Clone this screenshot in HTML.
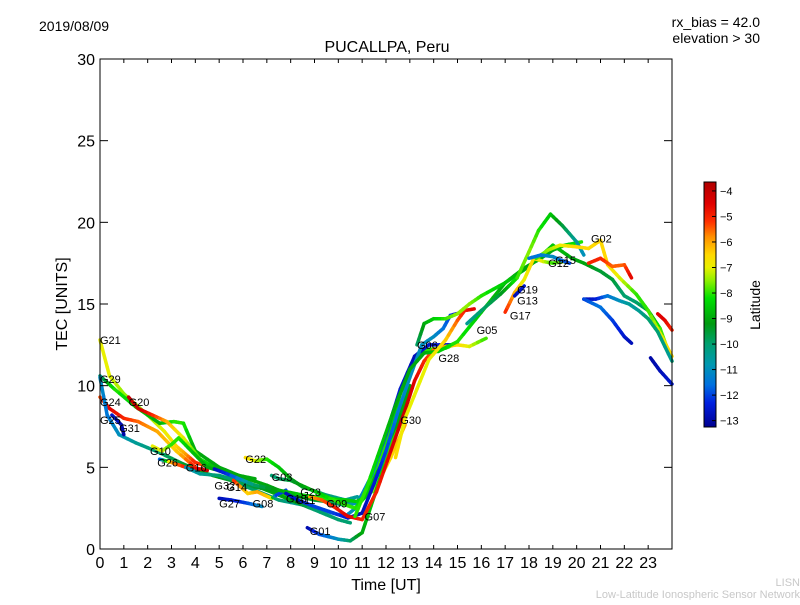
<!DOCTYPE html>
<html><head><meta charset="utf-8"><style>
body{margin:0;background:#fff;}
svg text{font-family:"Liberation Sans","DejaVu Sans",sans-serif;}
</style></head><body>
<svg id="chart" width="800" height="600" viewBox="0 0 800 600" xmlns="http://www.w3.org/2000/svg">
<rect width="800" height="600" fill="#fff"/>
<text x="39" y="31" font-size="14">2019/08/09</text>
<text x="760" y="27" font-size="14" text-anchor="end">rx_bias = 42.0</text>
<text x="760" y="43" font-size="14" text-anchor="end">elevation &gt; 30</text>
<text x="387" y="52" font-size="16" text-anchor="middle">PUCALLPA, Peru</text>
<g id="marks"></g>
<g id="labels"></g>
<rect x="100" y="59" width="572" height="490" fill="none" stroke="#000" stroke-width="1"/>
<g id="axes"></g>
<text x="386" y="590" font-size="16" text-anchor="middle">Time [UT]</text>
<text x="67" y="304" font-size="16" text-anchor="middle" transform="rotate(-90 67 304)">TEC [UNITS]</text>
<defs><linearGradient id="cmap" x1="0" y1="0" x2="0" y2="1"></linearGradient></defs>
<rect x="704" y="182" width="12" height="245" fill="url(#cmap)" stroke="#000" stroke-width="1"/>
<g id="cbticks"></g>
<text x="760" y="305" font-size="14" text-anchor="middle" transform="rotate(-90 760 305)">Latitude</text>
<text x="800" y="586" font-size="11" fill="#c8c8c8" text-anchor="end">LISN</text>
<text x="800" y="598" font-size="11" fill="#c8c8c8" text-anchor="end">Low-Latitude Ionospheric Sensor Network</text>
</svg>
<script>
const xTicks=[0,1,2,3,4,5,6,7,8,9,10,11,12,13,14,15,16,17,18,19,20,21,22,23];
const yTicks=[0,5,10,15,20,25,30];
const cbTicks=[-4,-5,-6,-7,-8,-9,-10,-11,-12,-13];
const latMin=-13.25, latMax=-3.65;
const satNames=["G21","G29","G24","G25","G20","G31","G10","G26","G16","G22","G32","G14","G03","G27","G08","G18","G11","G23","G09","G01","G07","G30","G06","G28","G05","G17","G13","G19","G12","G15","G02"];
const labelT=[0,0,0,0,1.2,0.8,2.1,2.4,3.6,6.1,4.8,5.3,7.2,5.0,6.4,7.8,8.2,8.4,9.5,8.8,11.1,12.6,13.3,14.2,15.8,17.2,17.5,17.5,18.8,19.1,20.6];
const labelV=[12.8,10.4,9.0,7.9,9.0,7.4,6.0,5.3,5.0,5.5,3.9,3.8,4.4,2.8,2.8,3.1,3.0,3.5,2.8,1.1,2.0,7.9,12.5,11.7,13.4,14.3,15.2,15.9,17.5,17.7,19.0];
const sTime=[
[0,0.4,1,2,2.7,3.2,3.6,4,5,6,7,8],
[0,0.6,1.5,2.5,3.1,3.5,4,5,6,7,8,9,10,10.8,11.3,12,12.6,13.2,13.6,14.5,15],
[0,0.4,1,1.6,2.4,3.2,4],
[0,0.3,0.8,1.5,2.5,3.5,4.5,5.5,6.5,7.5,8.5,9.5,10.3,10.8],
[1.2,1.6,2.2,2.8,3.5,4.2,5,6,7,8,9,10,10.5],
[0.5,0.9,1.0],
[2.2,2.6,3.0,3.3,3.7,4.5,5.5,6.5],
[2.5,3.0,3.6,4.2,4.5],
[3.6,4.2,5.0,5.5,6.5,7.5,8.5,9.5,10.2,10.8,11.4,12,12.6,13.2,13.8,14.4,14.8],
[6.1,6.5,7,7.5,8,8.5,9.5,10.3,10.8],
[5.6,6.2,6.6,7.2,7.4,7.8],
[4.8,5.5,6.5,7.5,8.5,9.5,10.3,10.8,11.5,12.2,12.8],
[7.2,7.5,8,8.6,9.2,9.8,10.3,10.7,11.2,11.8,12.5,13.0],
[5.0,5.5,6.2,6.8],
[8.7,9.2,10,10.5,11,11.5,12.1,12.5],
[7.8,8.3,9,9.8,10.4,11,11.5,12,12.5,13,13.5,14,14.4,14.7,15.2],
[8.8,9.3,9.8,10.4,11,11.6,12.2,12.8,13.2,13.6,14,14.5,15,15.5,16.2],
[10.7,11.2,11.8,12.4,13,13.6,14.2,15,16,17,17.8,18.5,19,19.5,20.2],
[12.4,12.8,13.3,13.8,14.5,15,15.3,15.7],
[13.3,13.6,14,14.5,15,15.5,16,17,18,19,19.8,20.3,21,21.5,22,22.5,23,23.5,24],
[15.4,16,16.8,17.5,18,18.4,18.9,19.4,20,20.3],
[17.0,17.4,17.8,18.2,18.6,19.0,19.5],
[17.4,17.8],
[18.3,18.8,19.3,20,20.5,21,21.3,21.8,22.5,23,23.5,24],
[20.5,21,21.5,22,22.3],
[20.3,20.8,21.3,21.8,22.2,22.6,23,23.4,24],
[20.3,21,21.5,22,22.3],
[23.1,23.5,24],
[23.4,23.7,24],
[18.0,18.5,19.0,19.3,19.7]
];
const sVal=[
[12.8,10.6,9.5,8.2,7.2,6.3,5.8,5.3,4.8,4.2,3.6,3.2],
[10.6,9.8,8.7,7.7,7.8,7.7,6.0,5.0,4.4,3.9,3.3,3.0,2.8,2.9,4.0,6.5,9.5,11.5,12.2,12.3,12.6],
[9.3,8.6,8.0,7.8,7.2,6.0,5.0],
[10.5,8.2,7.0,6.5,5.9,5.2,4.6,4.2,3.6,3.0,2.7,2.3,2.0,2.6],
[9.3,8.6,8.2,7.8,6.8,5.5,4.8,4.2,3.6,3.0,2.4,1.8,1.6],
[8.2,7.6,7.0],
[6.3,6.0,6.4,6.8,6.2,5.0,4.6,4.3],
[5.5,5.3,5.0,4.9,4.8],
[5.0,4.6,4.5,4.3,3.8,3.5,3.2,2.9,2.7,2.8,4.5,7.0,9.8,11.8,12.5,12.5,12.5],
[5.6,5.4,5.5,5.0,4.3,3.8,3.3,3.0,3.2],
[4.2,3.4,3.5,3.1,3.3,3.6],
[4.9,4.5,3.9,3.6,3.3,3.1,3.0,2.9,3.6,5.6,7.6],
[4.5,4.3,4.2,3.8,3.4,3.0,2.7,2.5,3.3,5.2,7.8,10],
[3.1,3.0,2.8,2.6],
[1.3,0.9,0.6,0.5,1.0,3.2,6.0,7.3],
[3.4,3.0,2.6,2.2,1.9,2.2,4.0,6.0,8.4,10.5,12.5,13.0,13.5,14.3,14.5],
[3.2,3.0,2.6,2.0,1.8,3.5,6.0,8.5,10.3,11.5,12.2,12.4,12.5,12.4,12.9],
[2.0,3.8,6.3,8.8,11.0,12.0,12.1,12.7,14.5,16.3,17.2,17.8,18.3,18.6,18.8],
[5.6,8.0,9.8,11.6,12.8,14.0,14.6,14.7],
[12.5,13.8,14.1,14.1,14.4,15.0,15.5,16.3,17.3,18.6,17.8,17.5,17.0,16.5,15.5,15.1,14.6,13.5,11.5],
[13.8,14.6,15.6,16.6,18.2,19.5,20.5,19.8,18.8,18.0],
[14.5,15.7,16.5,17.8,17.6,17.5,17.6],
[15.5,16.1],
[17.8,18.3,18.6,18.5,18.4,18.9,17.4,16.6,15.6,14.6,13.2,11.8],
[17.5,17.8,17.3,17.4,16.6],
[15.3,15.3,15.5,15.2,15.0,14.6,14.1,13.3,11.5],
[15.3,14.8,14.0,13.0,12.6],
[11.7,10.9,10.1],
[14.4,14.0,13.4],
[17.8,18.0,17.9,17.7,17.5]
];
const sLat=[
[-7,-7,-7.5,-7.5,-7,-6.5,-6,-5,-6,-7,-8,-8],
[-10.5,-8,-8.5,-9,-8,-8,-9,-9,-9,-9,-9.5,-9.5,-10,-9,-8,-8,-8.5,-9,-8,-8,-8],
[-5.5,-4.5,-5,-5.5,-6,-6.5,-5],
[-11,-11.5,-11,-10.5,-10,-9.5,-9,-9.5,-10,-10,-10.5,-11,-11,-11],
[-4,-4,-5,-6,-7,-8,-9,-9,-9,-9,-10,-10,-10],
[-12.5,-12.8,-13],
[-7,-7,-8,-8,-8.5,-9,-9,-9],
[-12.5,-6,-5,-4.5,-4],
[-11,-10.5,-10,-10,-9.5,-9,-9,-9.5,-10,-11,-11.5,-12,-12.5,-12.8,-12.5,-12.5,-12.5],
[-6.5,-7,-8,-8.5,-9,-9.5,-10,-10.5,-10.5],
[-5,-6.5,-6,-6.5,-12,-12],
[-12.8,-12,-10,-9,-8.5,-8,-8.5,-8.5,-7.5,-6.5,-6],
[-10,-10,-9.5,-9,-8.5,-8,-8,-8,-8.5,-9,-9,-9],
[-12.8,-12.5,-12,-11],
[-13,-12,-11,-10,-9,-8.5,-8,-8],
[-12.8,-12.5,-12,-12,-12.5,-12.8,-12.5,-12,-11.5,-11,-11,-11,-11.5,-12,-13],
[-6,-5.5,-5,-4.5,-5,-5,-4.5,-4,-4.5,-5,-5.5,-6,-6.5,-7,-8],
[-8,-8,-8.5,-9,-9,-9,-8.5,-8,-8.5,-9,-9,-9,-9,-8.5,-8],
[-6.5,-7,-7,-7,-6.5,-5.5,-5,-4.5],
[-10,-9,-8.5,-8,-7.5,-7.5,-8,-8.5,-9,-8.5,-9,-9,-9.5,-9.5,-10,-10,-9.5,-8,-7],
[-10.5,-10,-9.5,-8,-7.5,-8,-8.5,-9.5,-10.5,-11],
[-5,-6,-7,-6.5,-7,-8,-7.5],
[-12.8,-12.5],
[-8,-7.5,-7,-6.5,-6.5,-6.5,-6.5,-7,-8,-8,-7,-6.5],
[-5,-5,-5.5,-5.5,-4.5],
[-12.8,-12.5,-11.5,-11,-10.5,-10.5,-10,-10,-10.5],
[-12,-11.5,-12,-12.5,-12.8],
[-13,-12.8,-12.5],
[-4.5,-4.5,-5],
[-11.5,-11.5,-11,-11.5,-12]
];
const X=t=>100+t*(572/24);
const Y=v=>549-v*(490/30);
const C=l=>182+(latMax-l)/(latMax-latMin)*245;
// colormap stops (lat, rgb)
const cmL=[-3.65,-4.5,-5.2,-5.8,-6.5,-7.0,-7.5,-8.2,-9.2,-10.0,-10.8,-11.6,-12.3,-13.25];
const cmC=[[176,0,0],[224,0,0],[255,48,0],[255,144,0],[255,216,0],[232,240,0],[144,240,0],[0,224,0],[0,154,16],[0,160,112],[0,152,176],[0,112,224],[0,32,224],[0,0,144]];
function jet(l){
 if(l>=cmL[0])return `rgb(${cmC[0]})`;
 for(let i=0;i<cmL.length-1;i++){
  if(l<=cmL[i]&&l>=cmL[i+1]){const f=(cmL[i]-l)/(cmL[i]-cmL[i+1]);
   const c=cmC[i].map((v,k)=>Math.round(v+(cmC[i+1][k]-v)*f));return `rgb(${c})`;}
 }
 return `rgb(${cmC[cmC.length-1]})`;
}
const NS="http://www.w3.org/2000/svg";
function mk(tag,attrs,parent){const e=document.createElementNS(NS,tag);for(const k in attrs)e.setAttribute(k,attrs[k]);parent.appendChild(e);return e;}
const grad=document.getElementById('cmap');
cmL.forEach((l,i)=>{mk('stop',{offset:(latMax-l)/(latMax-latMin),'stop-color':`rgb(${cmC[i]})`},grad);});
const marks=document.getElementById('marks');
sTime.forEach((ts,si)=>{
 const g=mk('g',{},marks);
 
 
 for(let i=0;i<ts.length-1;i++){
  const steps=4;
  for(let k=0;k<steps;k++){
   const a=k/steps,b=(k+1)/steps;
   const t1=ts[i]+(ts[i+1]-ts[i])*a,t2=ts[i]+(ts[i+1]-ts[i])*b;
   const v1=sVal[si][i]+(sVal[si][i+1]-sVal[si][i])*a,v2=sVal[si][i]+(sVal[si][i+1]-sVal[si][i])*b;
   const l=sLat[si][i]+(sLat[si][i+1]-sLat[si][i])*(a+b)/2;
   const ln=mk('line',{x1:X(t1),y1:Y(v1),x2:X(t2),y2:Y(v2),stroke:jet(l),'stroke-width':3.5,'stroke-linecap':'round'},g);
   
   
  }
 }
});
const labels=document.getElementById('labels');
satNames.forEach((n,i)=>{
 const t=mk('text',{x:X(labelT[i]),y:Y(labelV[i])+4,'font-size':11},labels);
 t.textContent=n;
 
 
});
const axes=document.getElementById('axes');
xTicks.forEach(t=>{
 const a=mk('line',{x1:X(t),x2:X(t),y1:549,y2:545,stroke:'#000'},axes);
 
 
 const b=mk('line',{x1:X(t),x2:X(t),y1:59,y2:63,stroke:'#000'},axes);
 
 
 const tx=mk('text',{x:X(t),y:568,'font-size':16,'text-anchor':'middle'},axes);
 tx.textContent=t;
 
 
});
yTicks.forEach(v=>{
 const a=mk('line',{x1:100,x2:108,y1:Y(v),y2:Y(v),stroke:'#000'},axes);
 
 
 const b=mk('line',{x1:672,x2:664,y1:Y(v),y2:Y(v),stroke:'#000'},axes);
 
 
 const tx=mk('text',{x:95,y:Y(v)+6,'font-size':16,'text-anchor':'end'},axes);
 tx.textContent=v;
 
 
});
const cbt=document.getElementById('cbticks');
cbTicks.forEach(l=>{
 const a=mk('line',{x1:712,x2:716,y1:C(l),y2:C(l),stroke:'#000'},cbt);
 
 
 const tx=mk('text',{x:720,y:C(l)+4,'font-size':11},cbt);
 tx.textContent='\u2212'+Math.abs(l);
 
 
});
</script>
</body></html>
